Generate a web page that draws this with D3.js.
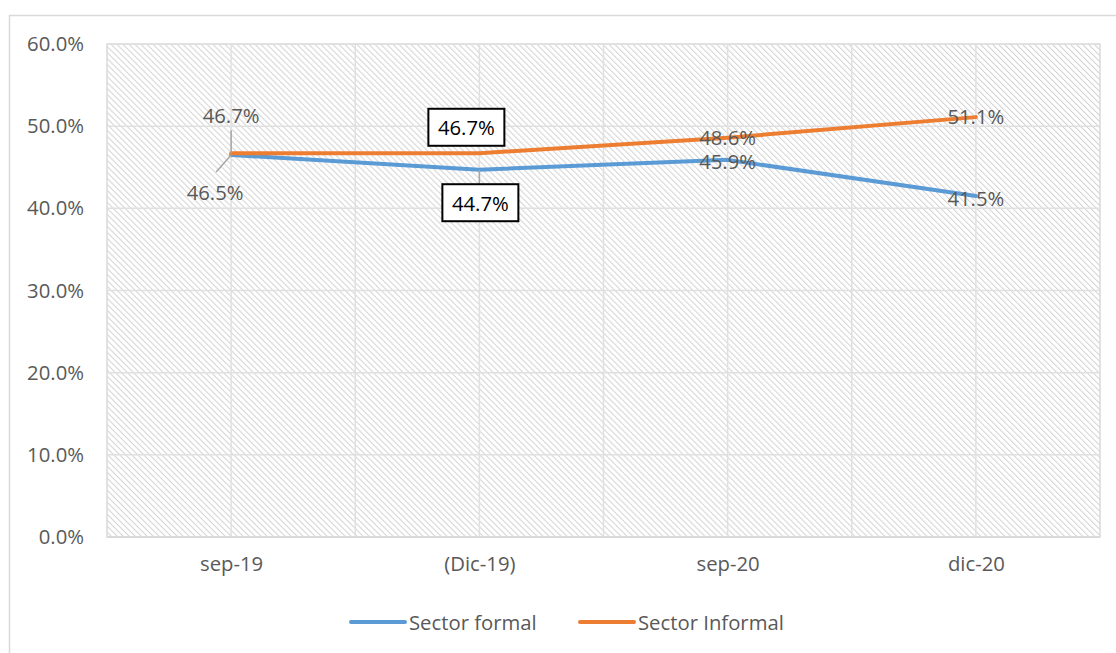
<!DOCTYPE html>
<html><head><meta charset="utf-8">
<script src="https://cdn.jsdelivr.net/npm/d3@7"></script>
<style>body{margin:0;background:#fff}svg{display:block}text{font-family:"Open Sans",sans-serif}</style>
</head><body><svg id="c" width="1116" height="653"></svg>
<script>
const categories = ["sep-19", "(Dic-19)", "sep-20", "dic-20"];
const formal = [46.5, 44.7, 45.9, 41.5];
const informal = [46.7, 46.7, 48.6, 51.1];
const seriesNames = ["Sector formal", "Sector Informal"];
const yTicks = [0, 10, 20, 30, 40, 50, 60];

const svg = d3.select("#c");
const L = 107, R = 1100, T = 44, B = 537;
const FS = "20.3px";
const x = d3.scalePoint().domain(categories).range([L, R]).padding(0.5);
const y = d3.scaleLinear().domain([0, 60]).range([B, T]);
const colors = ["#5b9bd5", "#ed7d31"];
const txt = "#595959";

// outer border
svg.append("rect").attr("x", 9.5).attr("y", 15.5).attr("width", 1200).attr("height", 700)
  .attr("fill", "#fff").attr("stroke", "#d9d9d9").attr("stroke-width", 1.5);

// hatch pattern
const defs = svg.append("defs");
const pw = 4.24;
const pat = defs.append("pattern").attr("id", "hatch").attr("patternUnits", "userSpaceOnUse")
  .attr("width", pw).attr("height", pw).attr("patternTransform", "rotate(-45)");
pat.append("rect").attr("width", pw).attr("height", pw).attr("fill", "#fff");
pat.append("line").attr("x1", 0.5).attr("y1", 0).attr("x2", 0.5).attr("y2", pw)
  .attr("stroke", "#d2d2d2").attr("stroke-width", 1);

svg.append("rect").attr("x", L).attr("y", T).attr("width", R - L).attr("height", B - T)
  .attr("fill", "url(#hatch)").attr("stroke", "#d9d9d9").attr("stroke-width", 1.5);

// gridlines
const g = svg.append("g");
g.selectAll("line.h").data(yTicks).join("line").attr("class", "h")
  .attr("x1", L).attr("x2", R).attr("y1", d => y(d)).attr("y2", d => y(d))
  .attr("stroke", "#e0e0e0").attr("stroke-width", 1.5);
const step = x.step();
const vx = [];
categories.forEach((c, i) => { vx.push(x(c)); if (i > 0) vx.push(x(c) - step / 2); });
g.selectAll("line.v").data(vx).join("line").attr("class", "v")
  .attr("x1", d => d).attr("x2", d => d).attr("y1", T).attr("y2", B)
  .attr("stroke", "#e0e0e0").attr("stroke-width", 1.5);
svg.append("line").attr("x1", L).attr("x2", R).attr("y1", B).attr("y2", B)
  .attr("stroke", "#d9d9d9").attr("stroke-width", 2);

// y axis labels
const yAxis = d3.axisLeft(y).tickValues(yTicks).tickFormat(d => d.toFixed(1) + "%").tickSize(0).tickPadding(0);
const ya = svg.append("g").attr("transform", `translate(${84},0)`).call(yAxis);
ya.select(".domain").remove();
ya.selectAll("text").attr("fill", txt).style("font-size", FS).style("font-family", "'Open Sans',sans-serif");

// x axis labels
const xAxis = d3.axisBottom(x).tickSize(0).tickPadding(0);
const xa = svg.append("g").attr("transform", `translate(0,${557})`).call(xAxis);
xa.select(".domain").remove();
xa.selectAll("text").attr("fill", txt).style("font-size", FS).style("font-family", "'Open Sans',sans-serif");

// lines
const line = d3.line().x((d, i) => x(categories[i])).y(d => y(d));
[formal, informal].forEach((s, k) => {
  svg.append("path").datum(s).attr("d", line).attr("fill", "none")
    .attr("stroke", colors[k]).attr("stroke-width", 4).attr("stroke-linejoin", "round").attr("stroke-linecap", "round");
});

// data labels
function lab(xv, yv, t, opt = {}) {
  const gx = svg.append("g");
  gx.append("text").attr("x", xv).attr("y", yv).attr("text-anchor", "middle")
    .attr("dominant-baseline", "central").style("font-size", FS)
    .attr("fill", opt.box ? "#000" : txt).text(t);
  if (opt.box) {
    const w = 76, h = 37;
    gx.insert("rect", "text").attr("x", xv - w / 2).attr("y", yv - h / 2).attr("width", w).attr("height", h)
      .attr("fill", "#fff").attr("stroke", "#000").attr("stroke-width", 2);
  }
}
function leader(pts) {
  svg.append("path").attr("d", d3.line()(pts)).attr("fill", "none").attr("stroke", "#a6a6a6").attr("stroke-width", 1.5);
}
const fmt = v => v.toFixed(1) + "%";
// sep-19
leader([[x(categories[0]), y(informal[0]) - 23], [x(categories[0]), y(informal[0])]]);
leader([[x(categories[0]) - 15, y(formal[0]) + 17], [x(categories[0]), y(formal[0])]]);
lab(x(categories[0]), y(informal[0]) - 38, fmt(informal[0]));
lab(x(categories[0]) - 16, y(formal[0]) + 37, fmt(formal[0]));
// Dic-19
leader([[x(categories[1]), y(formal[1])], [x(categories[1]), y(formal[1]) + 14]]);
lab(x(categories[1]) - 13, y(informal[1]) - 26, fmt(informal[1]), {box: true});
lab(x(categories[1]) + 1, y(formal[1]) + 33, fmt(formal[1]), {box: true});
// sep-20, dic-20
lab(x(categories[2]), y(informal[2]) - 1, fmt(informal[2]));
lab(x(categories[2]), y(formal[2]) + 1, fmt(formal[2]));
lab(x(categories[3]), y(informal[3]) - 1, fmt(informal[3]));
lab(x(categories[3]), y(formal[3]) + 2, fmt(formal[3]));

// legend
const lg = svg.append("g");
const legX = [351, 580];
seriesNames.forEach((n, i) => {
  lg.append("line").attr("x1", legX[i]).attr("x2", legX[i] + 54).attr("y1", 622).attr("y2", 622)
    .attr("stroke", colors[i]).attr("stroke-width", 4).attr("stroke-linecap", "round");
  lg.append("text").attr("x", legX[i] + 58).attr("y", 622).attr("dominant-baseline", "central")
    .style("font-size", FS).attr("fill", txt).text(n);
});
</script></body></html>
